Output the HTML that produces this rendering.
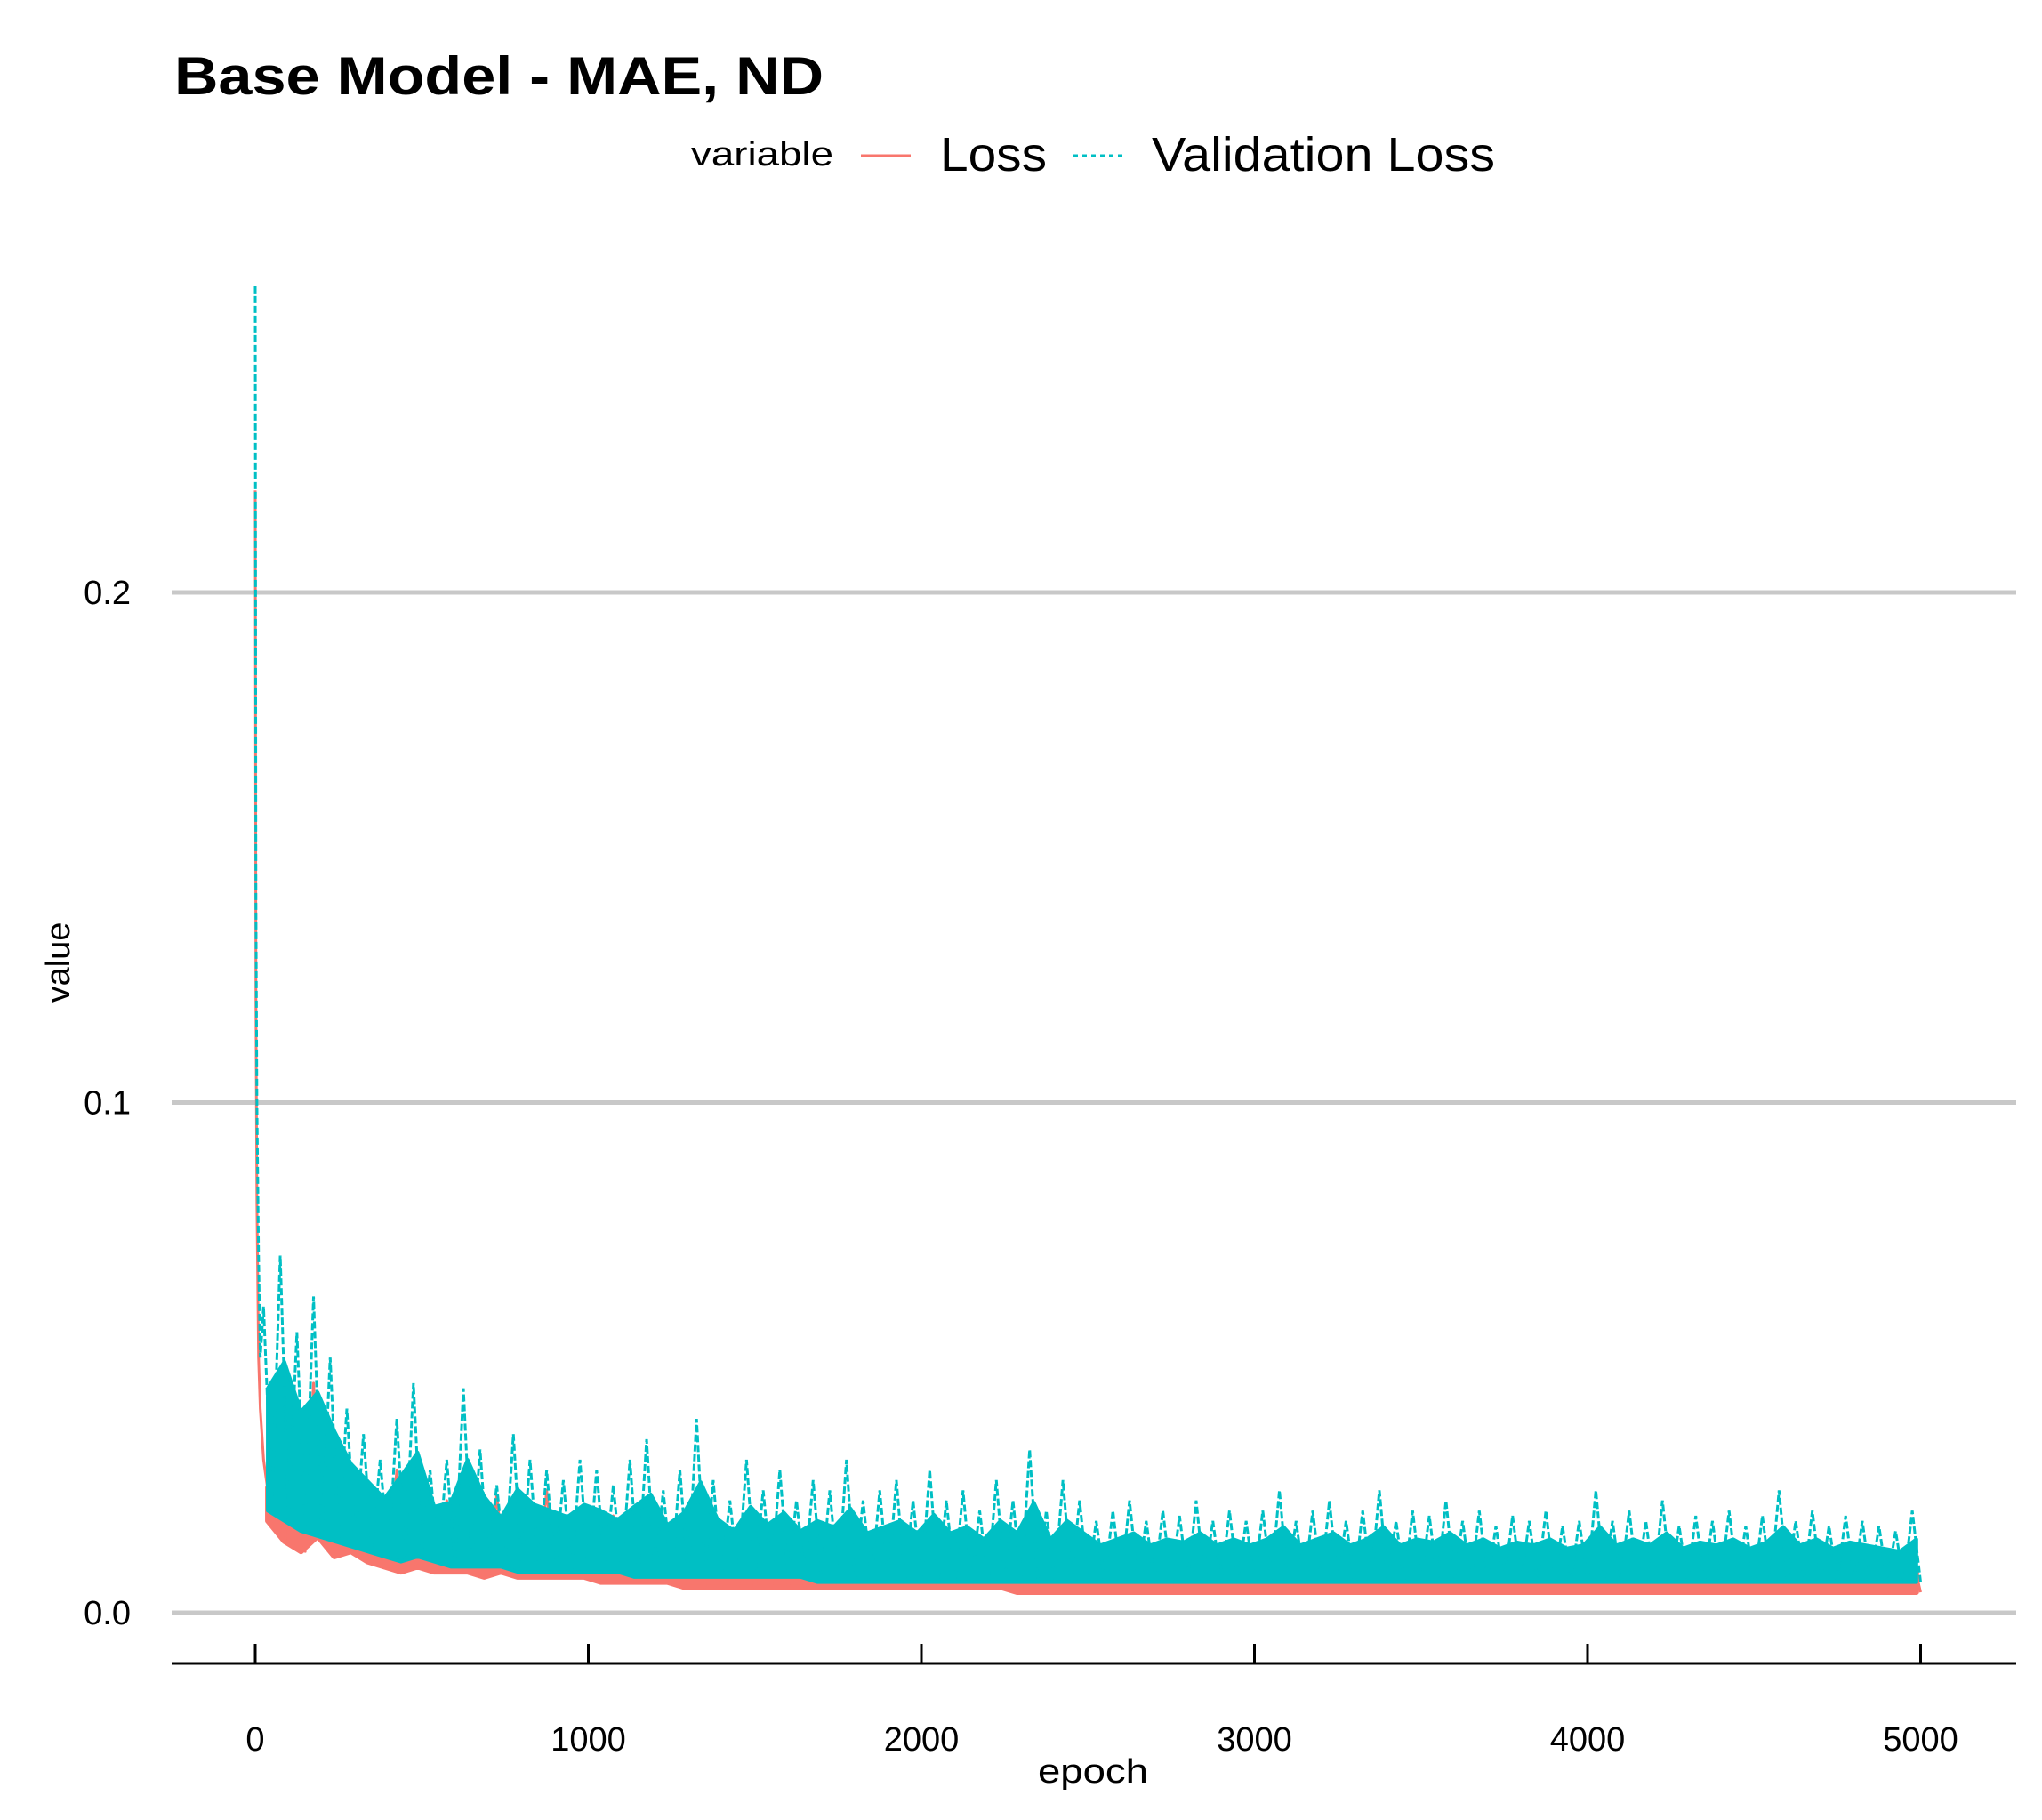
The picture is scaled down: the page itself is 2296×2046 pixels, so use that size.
<!DOCTYPE html>
<html><head><meta charset="utf-8"><style>
html,body{margin:0;padding:0;background:#fff;}
svg{display:block;font-family:"Liberation Sans",Arial,sans-serif;}
</style></head><body>
<svg id="chart" width="2296" height="2046" viewBox="0 0 2296 2046">
<text x="196" y="106" font-size="60" font-weight="bold" fill="#000" textLength="730" lengthAdjust="spacingAndGlyphs">Base Model - MAE, ND</text>
<g>
<text x="777" y="186" font-size="38" fill="#000" textLength="160" lengthAdjust="spacingAndGlyphs">variable</text>
<line x1="968" y1="175" x2="1024" y2="175" stroke="#F8766D" stroke-width="3"/>
<text x="1057" y="192" font-size="54" fill="#000" textLength="120" lengthAdjust="spacingAndGlyphs">Loss</text>
<line x1="1207" y1="175" x2="1265" y2="175" stroke="#00BFC4" stroke-width="3" stroke-dasharray="5,5"/>
<text x="1295" y="192" font-size="54" fill="#000" textLength="386" lengthAdjust="spacingAndGlyphs">Validation Loss</text>
</g>
<g id="grid"></g>
<g id="series"></g>
<g id="axes"></g>
<text x="1229" y="2004" font-size="38" text-anchor="middle" fill="#000" textLength="124" lengthAdjust="spacingAndGlyphs">epoch</text>
<text x="0" y="0" font-size="38" text-anchor="middle" fill="#000" transform="translate(78,1082) rotate(-90)">value</text>
</svg>
<script>
const xTicks = [0,1000,2000,3000,4000,5000];
const yTicks = [0.0,0.1,0.2];
const yTickLabels = ["0.0","0.1","0.2"];
const earlyEpochs = [0,2,5,10,15];
const earlyLoss = [0.22,0.12,0.08,0.05,0.04];
const earlyVal = [0.26,0.14,0.10,0.07,0.05];
const lossMilli = [30,18,38,14,32,12,45,15,30,11,28,12,
25,10,22,9,28,8,20,9,24,8,22,8,19,8,21,7,23,8,18,7,20,7,24,7,18,7,19,7,
17,6,19,6,16,6,18,6,15,6,17,5,20,5,16,5,15,5,18,5,14,5,16,5,15,5,14,5,17,5,14,5,15,5,13,5,14,5,15,5,
13,5,14,5,12,5,15,5,13,5,12,4,14,4,12,4,13,4,12,4,11,4,13,4,12,4,11,4,12,4,14,4,11,4,12,4,10,4,11,4,
11,4,12,4,10,4,11,4,12,4,10,4,11,4,10,4,11,4,12,4,10,4,11,4,10,4,11,4,10,4,12,4,10,4,11,4,10,4,11,4,
11,4,10,4,12,4,10,4,11,4,10,4,11,4,10,4,12,4,10,4,11,4,10,4,11,4,10,4,12,4,10,4,11,4,10,4,10,4,11,4];
const valMilli = [60,20,70,18,55,16,62,15,50,14,40,13,
35,12,30,11,38,10,45,11,28,10,30,9,44,9,32,9,25,9,35,8,30,8,28,8,26,8,30,8,
28,8,25,8,30,7,34,7,24,7,28,7,38,7,26,7,22,7,30,7,24,7,28,7,22,7,26,6,24,6,30,6,22,6,24,6,26,6,22,6,
28,6,22,6,24,6,20,6,26,6,22,6,32,6,20,6,26,6,22,6,18,6,20,6,22,6,18,6,20,6,19,6,22,6,18,6,20,6,18,6,
20,6,24,6,18,6,20,6,22,6,18,6,20,6,24,6,18,6,20,6,19,6,22,6,18,6,20,6,17,6,19,6,18,6,20,6,17,6,18,6,
24,6,18,6,20,6,18,6,22,6,17,6,19,6,18,6,20,6,17,6,19,6,24,6,18,6,20,6,17,6,19,6,18,6,17,6,16,6,20,6];
const sampleStep = 25;

const NS="http://www.w3.org/2000/svg";
const X0=287, XPER=0.3745, Y0=1813, YPER=5735;
function xs(e){return X0+e*XPER;}
function ys(v){return Y0-v*YPER;}
function mk(tag,attrs,parent){const el=document.createElementNS(NS,tag);for(const k in attrs)el.setAttribute(k,attrs[k]);parent.appendChild(el);return el;}
const grid=document.getElementById('grid'),axes=document.getElementById('axes'),series=document.getElementById('series');
yTicks.forEach((t,i)=>{
  const g=mk('line',{x1:193,x2:2267,y1:ys(t),y2:ys(t),stroke:'#c8c8c8','stroke-width':5},grid);
  
  
  const l=mk('text',{x:147,y:ys(t)+13,'font-size':38,'text-anchor':'end',fill:'#000'},axes);
  l.textContent=yTickLabels[i];
  
  
});
const ax=mk('line',{x1:193,x2:2267,y1:1870,y2:1870,stroke:'#000','stroke-width':3},axes);


xTicks.forEach(t=>{
  const tk=mk('line',{x1:xs(t),x2:xs(t),y1:1848,y2:1870,stroke:'#000','stroke-width':3},axes);
  
  
  const l=mk('text',{x:xs(t),y:1968,'font-size':38,'text-anchor':'middle',fill:'#000'},axes);
  l.textContent=String(t);
  
  
});
function pts(early,milli){
  const p=earlyEpochs.map((e,i)=>xs(e)+','+ys(early[i]));
  milli.forEach((m,i)=>p.push(xs((i+1)*sampleStep)+','+ys(m/1000)));
  return p.join(' ');
}
// core band: from each pair's low up part-way toward its high
function band(milli,frac){
  const hi=[],lo=[];
  for(let i=0;i+1<milli.length;i+=2){
    const e=(i+1.5)*sampleStep;
    const h=milli[i]/1000,l=milli[i+1]/1000;
    hi.push(xs(e)+','+ys(l+(h-l)*frac));
    lo.unshift(xs(e)+','+ys(l));
  }
  return hi.concat(lo).join(' ');
}
const lossBand=mk('polygon',{points:band(lossMilli,0.55),fill:'#F8766D',stroke:'#F8766D','stroke-width':6,'stroke-linejoin':'round'},series);


const lossLine=mk('polyline',{points:pts(earlyLoss,lossMilli),fill:'none',stroke:'#F8766D','stroke-width':3,'stroke-linejoin':'round'},series);


const valBand=mk('polygon',{points:band(valMilli,0.6),fill:'#00BFC4',stroke:'#00BFC4','stroke-width':4,'stroke-linejoin':'round'},series);


const valLine=mk('polyline',{points:pts(earlyVal,valMilli),fill:'none',stroke:'#00BFC4','stroke-width':3,'stroke-dasharray':'8,3'},series);


</script>
</body></html>
